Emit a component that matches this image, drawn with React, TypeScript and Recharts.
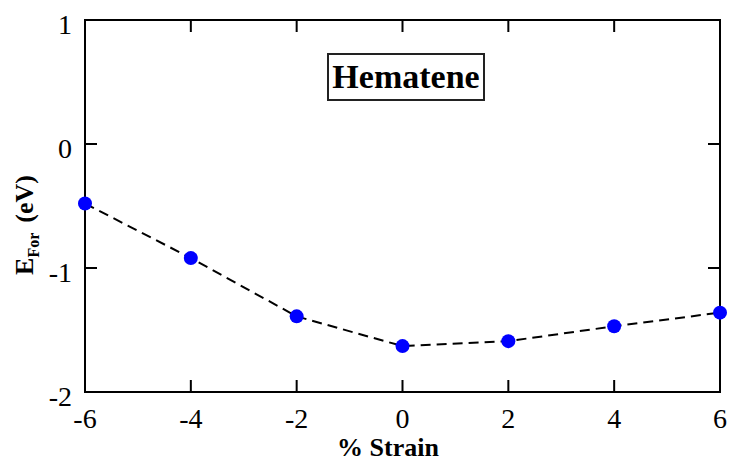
import React from 'react';
import { LineChart, Line, XAxis, YAxis, ReferenceArea } from 'recharts';

const strain = [-6, -4, -2, 0, 2, 4, 6];
const formationEnergy = [-0.48, -0.92, -1.39, -1.63, -1.59, -1.47, -1.36];
const xTicks = [-6, -4, -2, 0, 2, 4, 6];
const yTicks = [-2, -1, 0, 1];

const data = strain.map((s, i) => ({ strain: s, eFor: formationEnergy[i] }));

const W = 730;
const H = 462;
const PLOT_TOP = 20;
const PLOT_BOTTOM = 392;
const PLOT_LEFT = 85;
const PLOT_RIGHT = 720;
const TICK = 12;
const serif = '"Liberation Serif", "DejaVu Serif", serif';

const XTick = (props: any) => {
    const { x, payload } = props;
    return (
        <g>
            <line x1={x} y1={PLOT_BOTTOM} x2={x} y2={PLOT_BOTTOM - TICK} stroke="#000" strokeWidth={2} />
            <line x1={x} y1={PLOT_TOP} x2={x} y2={PLOT_TOP + TICK} stroke="#000" strokeWidth={2} />
            <text x={x} y={428} textAnchor="middle" style={{ fontFamily: serif, fontSize: 28 }} fill="#000">{payload.value}</text>
        </g>
    );
};

const YTick = (props: any) => {
    const { y, payload } = props;
    return (
        <g>
            <line x1={PLOT_LEFT} y1={y} x2={PLOT_LEFT + TICK} y2={y} stroke="#000" strokeWidth={2} />
            <line x1={PLOT_RIGHT} y1={y} x2={PLOT_RIGHT - TICK} y2={y} stroke="#000" strokeWidth={2} />
            <text x={PLOT_LEFT - 13} y={y + 14} textAnchor="end" style={{ fontFamily: serif, fontSize: 28 }} fill="#000">{payload.value}</text>
        </g>
    );
};

const XTitle = () => (
    <text x={388} y={456} textAnchor="middle" style={{ fontFamily: serif, fontWeight: 'bold', fontSize: 26 }} fill="#000">% Strain</text>
);

const YTitle = () => (
    <text x={33} y={225} transform="rotate(-90, 33, 225)" textAnchor="middle" style={{ fontFamily: serif, fontWeight: 'bold', fontSize: 26 }} fill="#000">
        <tspan>E</tspan>
        <tspan dy={6} style={{ fontSize: 16 }}>For</tspan>
        <tspan dy={-6} dx={10}>(eV)</tspan>
    </text>
);

const App: React.FC = () => {
    return (
        <div style={{ position: 'absolute', left: 0, top: 0, width: W, height: H, background: '#fff' }}>
            <LineChart width={W} height={H} data={data} margin={{ top: PLOT_TOP, right: W - PLOT_RIGHT, bottom: 0, left: 25 }}>
                <XAxis
                    dataKey="strain"
                    type="number"
                    domain={[-6, 6]}
                    ticks={xTicks}
                    height={H - PLOT_BOTTOM}
                    tickSize={0}
                    tickMargin={0}
                    tickLine={false}
                    tick={<XTick />}
                    axisLine={false}
                    label={<XTitle />}
                />
                <YAxis
                    type="number"
                    domain={[-2, 1]}
                    ticks={yTicks}
                    width={PLOT_LEFT - 25}
                    tickSize={0}
                    tickMargin={0}
                    tickLine={false}
                    tick={<YTick />}
                    axisLine={false}
                    label={<YTitle />}
                />
                <ReferenceArea x1={-6} x2={6} y1={-2} y2={1} fill="none" fillOpacity={0} stroke="#000" strokeWidth={2} />
                <Line
                    type="linear"
                    dataKey="eFor"
                    stroke="#000"
                    strokeWidth={2}
                    strokeDasharray="10 6"
                    dot={{ r: 7, fill: '#0000ff', stroke: 'none' }}
                    isAnimationActive={false}
                />
            </LineChart>
            <div
                style={{
                    position: 'absolute',
                    left: 327,
                    top: 53,
                    width: 158,
                    height: 48,
                    boxSizing: 'border-box',
                    border: '2px solid #222',
                    background: '#fff',
                    display: 'flex',
                    alignItems: 'center',
                    justifyContent: 'center',
                    fontFamily: serif,
                    fontWeight: 'bold',
                    fontSize: 34,
                    color: '#000',
                }}
            >
                Hematene
            </div>
        </div>
    );
};

export default App;
